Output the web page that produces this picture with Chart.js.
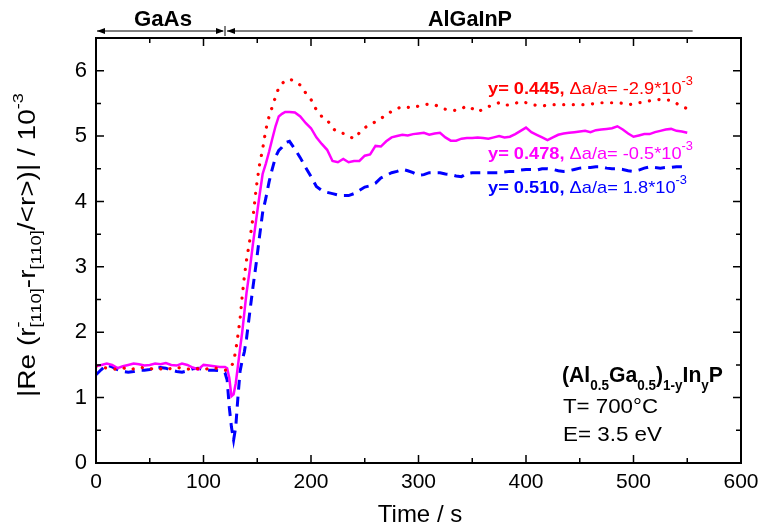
<!DOCTYPE html>
<html>
<head>
<meta charset="utf-8">
<script src="https://cdn.jsdelivr.net/npm/chart.js@4.4.1/dist/chart.umd.min.js"></script>
<style>
  html, body { margin: 0; padding: 0; background: #fff; }
</style>
</head>
<body>
<canvas id="rdsChart" width="777" height="529"></canvas>
<script>
// sample times (s)
const timeS = [
  0, 5, 10, 15, 20, 25, 30, 35, 40, 45, 50, 55, 60, 65, 70, 75, 80, 85, 90, 95, 100, 105, 110, 115, 120,
  122, 124, 126, 128, 130, 132, 134, 136, 138, 140, 143, 146, 149, 152, 155, 158, 161, 164, 167, 170, 173, 176, 180,
  185, 190, 195, 200, 205, 210, 215, 220, 225, 230, 235, 240, 245, 250, 255, 260, 265, 270, 275, 280,
  285, 290, 295, 300, 305, 310, 315, 320, 325, 330, 335, 340, 345, 350, 355, 360, 365, 370, 375, 380,
  385, 390, 395, 400, 405, 410, 415, 420, 425, 430, 435, 440, 445, 450, 455, 460, 465, 470, 475, 480,
  485, 490, 495, 500, 505, 510, 515, 520, 525, 530, 535, 540, 545, 550
];

// y = 0.445 (red, dotted)
const rdsY0445 = [
  1.48, 1.47, 1.45, 1.43, 1.44, 1.46, 1.42, 1.44, 1.47, 1.45, 1.43, 1.46, 1.44, 1.42, 1.45, 1.47, 1.44, 1.43, 1.46, 1.44, 1.42, 1.45, 1.46, 1.43, 1.42,
  1.42, 1.44, 1.48, 1.55, 1.72, 1.95, 2.20, 2.55, 2.85, 3.10, 3.40, 3.75, 4.20, 4.55, 4.80, 5.10, 5.30, 5.45, 5.60, 5.74, 5.80, 5.85, 5.87,
  5.84, 5.78, 5.66, 5.56, 5.40, 5.30, 5.25, 5.12, 5.06, 5.04, 5.00, 4.96, 5.05, 5.13, 5.17, 5.22, 5.27, 5.32, 5.38, 5.42,
  5.45, 5.44, 5.43, 5.46, 5.48, 5.49, 5.48, 5.44, 5.41, 5.40, 5.39, 5.42, 5.46, 5.42, 5.37, 5.41, 5.45, 5.48, 5.51, 5.47,
  5.48, 5.50, 5.53, 5.51, 5.48, 5.47, 5.46, 5.47, 5.48, 5.48, 5.48, 5.48, 5.48, 5.48, 5.48, 5.49, 5.50, 5.51, 5.51, 5.51,
  5.51, 5.50, 5.48, 5.49, 5.51, 5.52, 5.54, 5.55, 5.56, 5.55, 5.55, 5.50, 5.45, 5.42
];

// y = 0.478 (magenta, solid)
const rdsY0478 = [
  1.48, 1.50, 1.52, 1.50, 1.45, 1.48, 1.50, 1.52, 1.51, 1.49, 1.50, 1.52, 1.51, 1.53, 1.50, 1.49, 1.52, 1.50, 1.46, 1.43, 1.50, 1.49, 1.48, 1.47, 1.47,
  1.45, 1.30, 1.02, 1.05, 1.22, 1.48, 1.75, 2.00, 2.30, 2.60, 2.95, 3.35, 3.72, 4.08, 4.42, 4.58, 4.76, 4.96, 5.15, 5.30, 5.34, 5.37, 5.37,
  5.36, 5.30, 5.20, 5.12, 4.98, 4.88, 4.79, 4.62, 4.60, 4.65, 4.60, 4.62, 4.62, 4.70, 4.72, 4.85, 4.84, 4.92, 4.98, 5.00,
  5.02, 5.01, 5.03, 5.04, 5.05, 5.02, 5.04, 5.05, 4.98, 4.93, 4.93, 4.96, 4.97, 4.97, 4.98, 4.97, 4.96, 4.98, 5.00, 4.98,
  4.99, 5.03, 5.08, 5.13, 5.06, 5.02, 4.98, 4.94, 4.98, 5.02, 5.04, 5.05, 5.06, 5.07, 5.08, 5.06, 5.09, 5.10, 5.11, 5.12,
  5.15, 5.10, 5.04, 4.99, 5.01, 5.03, 5.03, 5.06, 5.08, 5.10, 5.11, 5.08, 5.07, 5.05
];

// y = 0.510 (blue, dashed)
const rdsY0510 = [
  1.35, 1.43, 1.50, 1.47, 1.43, 1.40, 1.39, 1.40, 1.42, 1.42, 1.43, 1.45, 1.46, 1.45, 1.42, 1.40, 1.39, 1.41, 1.44, 1.45, 1.43, 1.42, 1.42, 1.41, 1.38,
  1.27, 0.85, 0.55, 0.35, 0.55, 1.00, 1.40, 1.57, 1.70, 1.90, 2.30, 2.69, 3.05, 3.45, 3.83, 4.05, 4.30, 4.50, 4.68, 4.78, 4.83, 4.90, 4.92,
  4.80, 4.67, 4.52, 4.38, 4.23, 4.17, 4.14, 4.12, 4.10, 4.09, 4.09, 4.12, 4.17, 4.22, 4.24, 4.28, 4.36, 4.40, 4.44, 4.46,
  4.49, 4.47, 4.44, 4.40, 4.41, 4.44, 4.44, 4.44, 4.42, 4.41, 4.39, 4.38, 4.43, 4.44, 4.44, 4.44, 4.44, 4.44, 4.44, 4.45,
  4.46, 4.46, 4.48, 4.49, 4.49, 4.48, 4.50, 4.50, 4.49, 4.47, 4.46, 4.47, 4.49, 4.51, 4.52, 4.52, 4.53, 4.53, 4.51, 4.50,
  4.50, 4.49, 4.47, 4.46, 4.48, 4.51, 4.53, 4.52, 4.51, 4.52, 4.52, 4.53, 4.53, 4.53
];

// layer boundaries on the time axis: GaAs 0-120 s, AlGaInP 120-555 s
const layerEdges = [0, 120, 555];
const layerNames = ['GaAs', 'AlGaInP'];

(function () {
    const FONT = 'Arial, "Liberation Sans", sans-serif';

    function toPoints(values) {
        return values.map((v, i) => ({ x: timeS[i], y: v }));
    }

    // draws a run of text pieces (with sub/superscripts), optionally squeezed to a width
    function drawRich(ctx, parts, x, y, width) {
        ctx.save();
        let total = 0;
        parts.forEach(p => {
            ctx.font = p.font;
            p.w = ctx.measureText(p.text).width;
            if (!p.stack) total += p.w;
        });
        ctx.translate(x, y);
        if (width) ctx.scale(width / total, 1);
        ctx.textBaseline = 'alphabetic';
        ctx.textAlign = 'left';
        let cx = 0;
        parts.forEach(p => {
            ctx.font = p.font;
            ctx.fillStyle = p.color || '#000';
            ctx.fillText(p.text, cx, p.dy || 0);
            if (!p.stack) cx += p.w;
        });
        ctx.restore();
    }

    function arrowHead(ctx, x, y, dir) {
        ctx.beginPath();
        ctx.moveTo(x, y);
        ctx.lineTo(x - dir * 8, y - 3);
        ctx.lineTo(x - dir * 8, y + 3);
        ctx.closePath();
        ctx.fill();
    }

    const framePlugin = {
        id: 'frame',
        afterDraw(chart) {
            const ctx = chart.ctx;
            const xs = chart.scales.x, ys = chart.scales.y;
            const a = chart.chartArea;
            ctx.save();
            ctx.strokeStyle = '#000';
            ctx.fillStyle = '#000';

            // inward ticks on all four sides
            ctx.lineWidth = 1.5;
            ctx.beginPath();
            for (let t = 0; t <= 600; t += 50) {
                const px = xs.getPixelForValue(t);
                const len = t % 100 === 0 ? 8 : 5;
                ctx.moveTo(px, a.bottom); ctx.lineTo(px, a.bottom - len);
                ctx.moveTo(px, a.top); ctx.lineTo(px, a.top + len);
            }
            for (let v = 0; v <= 6.5; v += 0.5) {
                const py = ys.getPixelForValue(v);
                const len = Number.isInteger(v) ? 8 : 5;
                ctx.moveTo(a.left, py); ctx.lineTo(a.left + len, py);
                ctx.moveTo(a.right, py); ctx.lineTo(a.right - len, py);
            }
            ctx.stroke();

            ctx.lineWidth = 2;
            ctx.strokeRect(a.left, a.top, a.right - a.left, a.bottom - a.top);

            // layer arrows above the plot
            const ay = 31;
            const x0 = xs.getPixelForValue(layerEdges[0]);
            const x1 = xs.getPixelForValue(layerEdges[1]);
            const x2 = xs.getPixelForValue(layerEdges[2]);
            ctx.lineWidth = 1;
            ctx.beginPath();
            ctx.moveTo(x0 + 1, ay); ctx.lineTo(x1 - 2, ay);
            ctx.moveTo(x1 + 2, ay); ctx.lineTo(x2, ay);
            ctx.moveTo(x1, ay - 5); ctx.lineTo(x1, ay + 5);
            ctx.stroke();
            arrowHead(ctx, x0 + 1, ay, -1);
            arrowHead(ctx, x1 - 1, ay, 1);
            arrowHead(ctx, x1 + 2, ay, -1);

            ctx.textAlign = 'left';
            drawRich(ctx, [{ text: layerNames[0], font: 'bold 22px ' + FONT }], 134, 26, 58);
            drawRich(ctx, [{ text: layerNames[1], font: 'bold 22px ' + FONT }], 428, 26, 84);

            // axis titles
            ctx.font = '24px ' + FONT;
            ctx.textAlign = 'center';
            ctx.fillText('Time / s', 420, 522);

            ctx.save();
            ctx.translate(35, 397);
            ctx.rotate(-Math.PI / 2);
            drawRich(ctx, [
                { text: '|Re (r', font: '23px ' + FONT },
                { text: '-', font: '15px ' + FONT, dy: -12, stack: true },
                { text: '[110]', font: '15px ' + FONT, dy: 6 },
                { text: '-r', font: '23px ' + FONT },
                { text: '[110]', font: '15px ' + FONT, dy: 6 },
                { text: '/<r>)| / 10', font: '23px ' + FONT },
                { text: '-3', font: '15px ' + FONT, dy: -12 }
            ], 0, 0, 304);
            ctx.restore();

            // series labels
            const labels = [
                { y: 94, color: '#ff0000', bold: 'y= 0.445,', rest: ' \u0394a/a= -2.9*10', w: 205 },
                { y: 159, color: '#ff00ff', bold: 'y= 0.478,', rest: ' \u0394a/a= -0.5*10', w: 205 },
                { y: 193, color: '#0000ff', bold: 'y= 0.510,', rest: ' \u0394a/a= 1.8*10', w: 199 }
            ];
            labels.forEach(l => {
                drawRich(ctx, [
                    { text: l.bold, font: 'bold 17px ' + FONT, color: l.color },
                    { text: l.rest, font: '17px ' + FONT, color: l.color },
                    { text: '-3', font: '12px ' + FONT, color: l.color, dy: -9 }
                ], 488, l.y, l.w);
            });

            // conditions box text
            const B = 'bold 22px ' + FONT, S = 'bold 14px ' + FONT;
            drawRich(ctx, [
                { text: '(Al', font: B }, { text: '0.5', font: S, dy: 8 },
                { text: 'Ga', font: B }, { text: '0.5', font: S, dy: 8 },
                { text: ')', font: B }, { text: '1-y', font: S, dy: 8 },
                { text: 'In', font: B }, { text: 'y', font: S, dy: 8 },
                { text: 'P', font: B }
            ], 562, 382, 161);
            drawRich(ctx, [{ text: 'T= 700\u00b0C', font: '21px ' + FONT }], 563, 413, 95);
            drawRich(ctx, [{ text: 'E= 3.5 eV', font: '21px ' + FONT }], 563, 441, 99);

            ctx.restore();
        }
    };

    const ctx = document.getElementById('rdsChart').getContext('2d');
    new Chart(ctx, {
        type: 'line',
        data: {
            datasets: [
                {
                    label: 'y=0.445', data: toPoints(rdsY0445),
                    borderColor: '#ff0000', borderWidth: 3.2,
                    borderDash: [0.1, 9.5], borderCapStyle: 'round',
                    pointRadius: 0, fill: false, tension: 0
                },
                {
                    label: 'y=0.478', data: toPoints(rdsY0478),
                    borderColor: '#ff00ff', borderWidth: 2.5,
                    pointRadius: 0, fill: false, tension: 0
                },
                {
                    label: 'y=0.510', data: toPoints(rdsY0510),
                    borderColor: '#0000ff', borderWidth: 3,
                    borderDash: [10, 7],
                    pointRadius: 0, fill: false, tension: 0
                }
            ]
        },
        options: {
            responsive: false,
            animation: false,
            devicePixelRatio: 1,
            layout: { padding: { top: 38, right: 36, left: 0, bottom: 0 } },
            plugins: { legend: { display: false }, tooltip: { enabled: false } },
            scales: {
                x: {
                    type: 'linear', min: 0, max: 600,
                    afterFit: s => { s.height = 66; },
                    grid: { display: false, drawTicks: false },
                    border: { display: false },
                    ticks: {
                        stepSize: 100, padding: 7, color: '#000',
                        maxRotation: 0, autoSkip: false,
                        font: { family: FONT, size: 21 }
                    }
                },
                y: {
                    type: 'linear', min: 0, max: 6.5,
                    afterFit: s => { s.width = 96; },
                    afterBuildTicks: s => { s.ticks = s.ticks.filter(t => Number.isInteger(t.value)); },
                    grid: { display: false, drawTicks: false },
                    border: { display: false },
                    ticks: {
                        stepSize: 1, padding: 9, color: '#000',
                        font: { family: FONT, size: 22 }
                    }
                }
            }
        },
        plugins: [framePlugin]
    });
})();
</script>
</body>
</html>
